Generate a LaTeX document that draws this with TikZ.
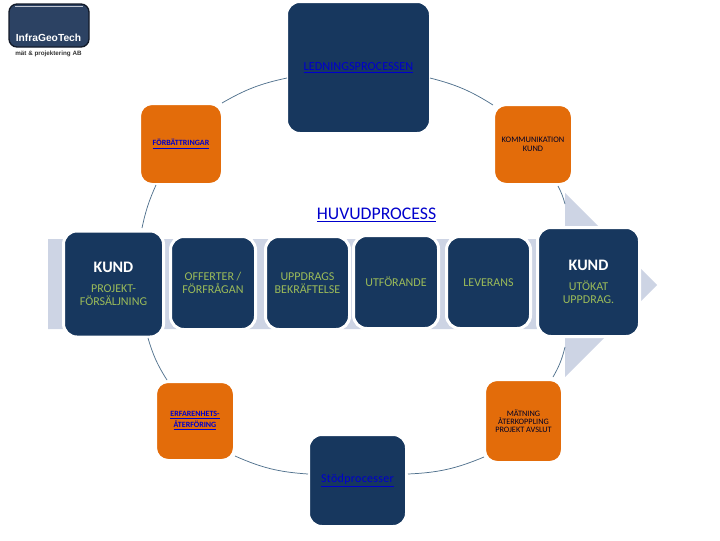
\documentclass[tikz,border=0pt]{standalone}
\usepackage{fontspec}
\setmainfont{Carlito}
\newfontfamily\logofont{Liberation Sans}
\definecolor{navy}{HTML}{17375E}
\definecolor{orangebox}{HTML}{E36C0A}
\definecolor{bandcol}{HTML}{CDD4E4}
\definecolor{greentxt}{HTML}{9BBB59}
\definecolor{linkcol}{HTML}{0000CC}
\definecolor{arccol}{HTML}{4F708C}
\definecolor{logofill}{HTML}{2C4263}
\newcommand{\fs}[2]{\fontsize{#1}{#2}\selectfont}
\tikzset{
  x=0.75pt,y=-0.75pt,
  pw/.style={minimum width=#1*0.75pt},
  ph/.style={minimum height=#1*0.75pt},
  basebox/.style={rectangle,inner sep=0pt,outer sep=0pt,align=center,draw=white,line width=2.25pt},
  navybox/.style={basebox,fill=navy,rounded corners=10pt,text=greentxt,font=\fs{9pt}{9.75pt}},
  orangebx/.style={basebox,fill=orangebox,rounded corners=9.5pt,draw=white,text=black!85!blue,font=\fs{6.3pt}{6.6pt}},
  linkorange/.style={orangebx,text=linkcol,font=\bfseries\fs{6pt}{7pt}},
  arcline/.style={draw=arccol,line width=0.55pt},
  plain/.style={inner sep=0pt,outer sep=0pt,align=center}
}
\begin{document}
\begin{tikzpicture}
\useasboundingbox (0,0) rectangle (720,540);
\fill[bandcol] (48,239) -- (565,239) -- (565,193) -- (657,285) -- (565,377) -- (565,329) -- (48,329) -- cycle;

% logo
\node[name=logo,rectangle,rounded corners=6pt,fill=logofill,draw=black!60!logofill,line width=1pt,pw=80,ph=43,inner sep=0pt,outer sep=0pt] at (49,25.5) {};
\draw[white!70!logofill,line width=0.5pt] (15,6.5) -- (83,6.5);
\node[name=logotext,plain,text=white] at (48.5,38) {\logofont\bfseries\fs{7.7pt}{8pt}InfraGeoTech};
\node[name=logosub,plain,text=black!80] at (48.5,53.5) {\logofont\bfseries\fs{4.7pt}{5pt}mät \& projektering AB};

% process boxes
\node[name=top,navybox,pw=144,ph=132,text=linkcol] at (358.5,67.5) {\fs{9.2pt}{10pt}\underline{LEDNINGSPROCESSEN}};
\node[name=tl,linkorange,pw=83,ph=81] at (181,144) {\underline{FÖRBÄTTRINGAR}};
\node[name=tr,orangebx,pw=79,ph=80] at (533,144.5) {KOMMUNIKATION\\KUND};
\node[name=kl,navybox,pw=100,ph=106] at (113.5,284) {\textcolor{white}{\fs{12pt}{12pt}\bfseries KUND}\\[5.5pt]PROJEKT-\\FÖRSÄLJNING};
\node[name=off,navybox,pw=85,ph=93] at (213,283) {OFFERTER /\\FÖRFRÅGAN};
\node[name=upp,navybox,pw=84,ph=93] at (307.5,283) {UPPDRAGS\\BEKRÄFTELSE};
\node[name=utf,navybox,pw=85,ph=93] at (396,282) {UTFÖRANDE};
\node[name=lev,navybox,pw=84,ph=92] at (488.5,282.5) {LEVERANS};
\node[name=kr,navybox,pw=102,ph=109] at (588.5,282) {\raisebox{-0.7pt}{\textcolor{white}{\fs{12pt}{12pt}\bfseries KUND}}\\[5.5pt]UTÖKAT\\UPPDRAG.};
\node[name=bl,linkorange,pw=79,ph=79] at (195,421) {\underline{ERFARENHETS-}\\\underline{ÅTERFÖRING}};
\node[name=br,orangebx,pw=78,ph=83,font=\fs{6.2pt}{6.2pt}] at (523.5,421) {MÄTNING\\ÅTERKOPPLING\\PROJEKT AVSLUT};
\node[name=st,navybox,pw=98,ph=92,text=linkcol] at (357.5,480.5) {\raisebox{-1pt}{\fs{9pt}{10pt}\addfontfeature{LetterSpace=2.5}\underline{Stödprocesser}}};

\node[name=title,plain,text=linkcol] at (376.5,215) {\fs{13.3pt}{14pt}\underline{HUVUDPROCESS}};

% ring connectors
\coordinate (a1) at (287,78);
\coordinate (a2) at (222,103);
\coordinate (b1) at (430,78);
\coordinate (b2) at (493,105);
\coordinate (c1) at (156,185);
\coordinate (c2) at (142,228);
\coordinate (d1) at (558,186);
\coordinate (d2) at (565,204);
\coordinate (e1) at (148,338);
\coordinate (e2) at (167,380);
\coordinate (f1) at (565,347);
\coordinate (f2) at (553,377);
\coordinate (g1) at (235,456);
\coordinate (g2) at (308,474);
\coordinate (h1) at (408,474);
\coordinate (h2) at (484,457);
\draw[arcline] (a1) to[bend right=9] (a2);
\draw[arcline] (b1) to[bend left=9] (b2);
\draw[arcline] (c1) to[bend right=6] (c2);
\draw[arcline] (d1) to[bend left=6] (d2);
\draw[arcline] (e1) to[bend right=8] (e2);
\draw[arcline] (f1) to[bend left=8] (f2);
\draw[arcline] (g1) to[bend right=10] (g2);
\draw[arcline] (h1) to[bend right=10] (h2);
\end{tikzpicture}
\end{document}
